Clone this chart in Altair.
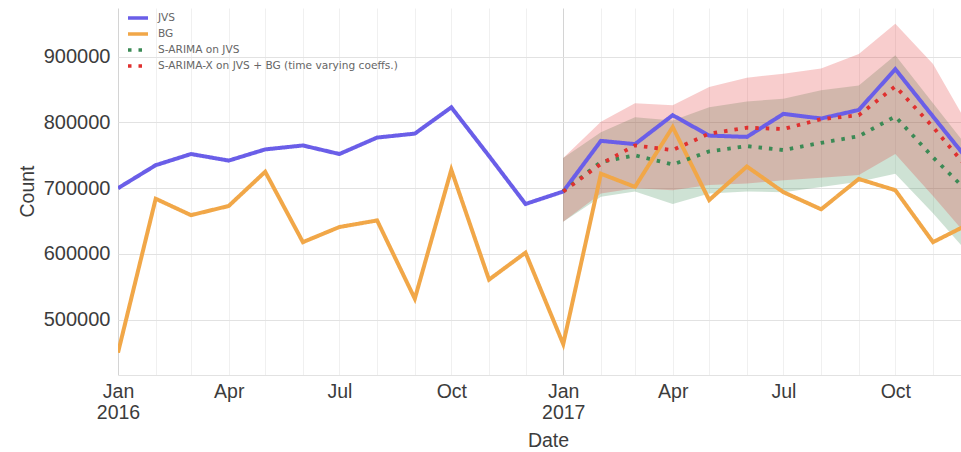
import altair as alt
import pandas as pd

# Monthly observation dates (first of each month)
months = [
    "2016-01-01", "2016-02-01", "2016-03-01", "2016-04-01", "2016-05-01", "2016-06-01",
    "2016-07-01", "2016-08-01", "2016-09-01", "2016-10-01", "2016-11-01", "2016-12-01",
    "2017-01-01", "2017-02-01", "2017-03-01", "2017-04-01", "2017-05-01", "2017-06-01",
    "2017-07-01", "2017-08-01", "2017-09-01", "2017-10-01", "2017-11-01", "2017-12-01",
]
forecast_months = months[12:]

# Observed series
jvs = [700000, 735000, 752000, 742000, 759000, 765000, 752000, 777000, 783000, 823000, 749000, 676000,
       695000, 772000, 767000, 811000, 780000, 778000, 813000, 806000, 819000, 881000, 809000, 740000]
bg = [450000, 684000, 659000, 673000, 725000, 618000, 641000, 651000, 532000, 728000, 561000, 602000,
      463000, 722000, 702000, 793000, 682000, 733000, 694000, 668000, 714000, 697000, 618000, 646000]

# S-ARIMA forecast on JVS with its interval
sarima_mean = [695000, 740000, 750000, 736000, 756000, 764000, 758000, 769000, 779000, 809000, 747000, 692000]
sarima_lo = [649000, 687000, 695000, 676000, 692000, 695000, 694000, 702000, 710000, 722000, 662000, 599000]
sarima_hi = [746000, 785000, 808000, 803000, 823000, 832000, 836000, 849000, 856000, 902000, 829000, 759000]

# S-ARIMA-X forecast (JVS + BG, time varying coefficients) with its interval
sarimax_mean = [695000, 737000, 765000, 758000, 783000, 792000, 790000, 805000, 811000, 855000, 793000, 727000]
sarimax_lo = [649000, 692000, 700000, 697000, 705000, 707000, 712000, 716000, 720000, 752000, 688000, 624000]
sarimax_hi = [746000, 801000, 829000, 826000, 854000, 868000, 874000, 882000, 904000, 950000, 889000, 792000]

series_names = ["JVS", "BG", "S-ARIMA on JVS", "S-ARIMA-X on JVS + BG (time varying coeffs.)"]
series_colors = ["#6a5ee8", "#f1a748", "#3b8a55", "#e0302f"]
series_dash = [[1, 0], [1, 0], [3.5, 7], [3.5, 7]]
y_ticks = [500000, 600000, 700000, 800000, 900000]

actual = pd.DataFrame({
    "Date": months * 2,
    "Count": jvs + bg,
    "series": [series_names[0]] * len(months) + [series_names[1]] * len(months),
})
forecast = pd.DataFrame({
    "Date": forecast_months * 2,
    "Count": sarima_mean + sarimax_mean,
    "series": [series_names[2]] * 12 + [series_names[3]] * 12,
})
band_sarima = pd.DataFrame({"Date": forecast_months, "lo": sarima_lo, "hi": sarima_hi})
band_sarimax = pd.DataFrame({"Date": forecast_months, "lo": sarimax_lo, "hi": sarimax_hi})


def dt(s):
    return alt.DateTime(year=int(s[:4]), month=int(s[5:7]), date=int(s[8:10]), utc=True)


x_scale = alt.Scale(type="utc", domain=[dt("2016-01-01"), dt("2017-11-24")], nice=False)
y_scale = alt.Scale(domain=[416000, 974000], nice=False, zero=False)

label_font = "Liberation Sans"
text_color = "#3c3c3c"

x_axis = alt.Axis(
    values=[dt(m) for m in months[:-1]],
    labelExpr=(
        "utcmonth(datum.value) == 0 ? [utcFormat(datum.value, '%b'), utcFormat(datum.value, '%Y')]"
        " : (utcmonth(datum.value) % 3 == 0 ? utcFormat(datum.value, '%b') : '')"
    ),
    labelOverlap=False,
    labelFlush=False,
    labelFont=label_font,
    labelFontSize=19.5,
    labelColor=text_color,
    labelPadding=7.5,
    labelLineHeight=21,
    ticks=False,
    tickSize=0,
    domain=True,
    domainColor="#e2e2e2",
    grid=True,
    gridColor={"condition": {"test": "utcmonth(datum.value) == 0", "value": "#d4d4d4"}, "value": "#f0f0f0"},
    title="Date",
    titleFont=label_font,
    titleFontSize=19.5,
    titleFontWeight="normal",
    titleColor=text_color,
    titleX=430,
    titleY=71,
    titleBaseline="alphabetic",
    titleAlign="center",
)

y_axis = alt.Axis(
    values=y_ticks,
    format="d",
    labelFont=label_font,
    labelFontSize=20,
    labelColor=text_color,
    labelPadding=8,
    ticks=False,
    tickSize=0,
    domain=False,
    grid=True,
    gridColor="#e2e2e2",
    title="Count",
    titleFont=label_font,
    titleFontSize=19.5,
    titleFontWeight="normal",
    titleColor=text_color,
    titleAngle=270,
    titleX=-85,
    titleY=183,
    titleBaseline="alphabetic",
    titleAlign="center",
)

legend = alt.Legend(
    title=None,
    orient="none",
    legendX=13,
    legendY=3,
    symbolType="M-2,0H2",
    symbolSize=100,
    symbolStrokeWidth=3.5,
    labelFont="DejaVu Sans",
    labelFontSize=10.6,
    labelColor="#666666",
    labelLimit=400,
    labelOffset=13,
    rowPadding=2,
    padding=0,
)

color = alt.Color("series:N", scale=alt.Scale(domain=series_names, range=series_colors), legend=legend)
dash = alt.StrokeDash("series:N", scale=alt.Scale(domain=series_names, range=series_dash), legend=legend)

base_x = alt.X("Date:T", scale=x_scale, axis=x_axis)

green_band = alt.Chart(band_sarima).mark_area(color="#3b8a55", opacity=0.25, clip=True).encode(
    x=base_x,
    y=alt.Y("lo:Q", scale=y_scale, axis=y_axis),
    y2="hi:Q",
)
red_band = alt.Chart(band_sarimax).mark_area(color="#e0302f", opacity=0.24, clip=True).encode(
    x=base_x,
    y=alt.Y("lo:Q", scale=y_scale, axis=y_axis),
    y2="hi:Q",
)
actual_lines = alt.Chart(actual).mark_line(strokeWidth=4, clip=True).encode(
    x=base_x,
    y=alt.Y("Count:Q", scale=y_scale, axis=y_axis),
    color=color,
    strokeDash=dash,
)
forecast_lines = alt.Chart(forecast).mark_line(strokeWidth=3.8, clip=True).encode(
    x=base_x,
    y=alt.Y("Count:Q", scale=y_scale, axis=y_axis),
    color=color,
    strokeDash=dash,
)

chart = (
    alt.layer(green_band, red_band, actual_lines, forecast_lines)
    .properties(
        width=843,
        height=367,
        autosize=alt.AutoSizeParams(type="none"),
        padding={"left": 118, "top": 8, "right": 0, "bottom": 77},
        background="white",
    )
    .configure_view(strokeWidth=0)
)

chart.save("out.html", embed_options={"renderer": "svg", "actions": False})
